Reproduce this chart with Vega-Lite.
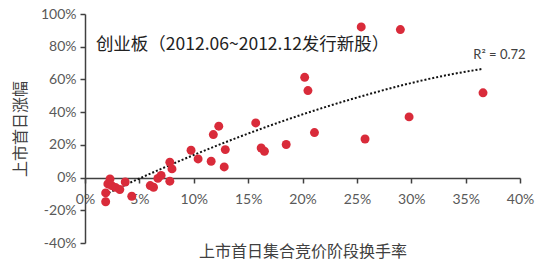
{
  "$schema": "https://vega.github.io/schema/vega-lite/v6.json",
  "width": 435,
  "height": 229,
  "autosize": "none",
  "padding": {"left": 85, "top": 14, "right": 30, "bottom": 34},
  "background": "white",
  "config": {
    "view": {"stroke": null},
    "axis": {
      "grid": false,
      "domainColor": "#404040",
      "domainWidth": 1.5,
      "tickColor": "#404040",
      "tickWidth": 1.5,
      "tickSize": 5,
      "labelFont": "Lato",
      "labelFontSize": 14,
      "labelColor": "#595959",
      "labelOverlap": false,
      "labelFlush": false,
      "labelBound": false,
      "titleFont": "Noto Sans CJK SC",
      "titleFontSize": 16,
      "titleFontWeight": "normal",
      "titleColor": "#404040"
    }
  },
  "datasets": {
    "pts": [
      {"turnover": 1.9, "gain": -14.8},
      {"turnover": 1.9, "gain": -9.4},
      {"turnover": 2.3, "gain": -0.8},
      {"turnover": 2.1, "gain": -3.9},
      {"turnover": 2.45, "gain": -4.9},
      {"turnover": 2.8, "gain": -6.0},
      {"turnover": 3.2, "gain": -7.3},
      {"turnover": 3.7, "gain": -2.7},
      {"turnover": 4.3, "gain": -11.4},
      {"turnover": 6.0, "gain": -4.9},
      {"turnover": 6.3, "gain": -5.9},
      {"turnover": 6.7, "gain": -0.5},
      {"turnover": 7.0, "gain": 1.3},
      {"turnover": 7.8, "gain": 9.4},
      {"turnover": 8.0, "gain": 5.3},
      {"turnover": 7.8, "gain": -2.2},
      {"turnover": 9.75, "gain": 16.7},
      {"turnover": 10.4, "gain": 11.4},
      {"turnover": 11.6, "gain": 10.0},
      {"turnover": 11.8, "gain": 26.3},
      {"turnover": 12.3, "gain": 31.4},
      {"turnover": 12.9, "gain": 17.1},
      {"turnover": 12.8, "gain": 6.5},
      {"turnover": 15.7, "gain": 33.4},
      {"turnover": 16.2, "gain": 18.1},
      {"turnover": 16.5, "gain": 16.1},
      {"turnover": 18.5, "gain": 20.2},
      {"turnover": 20.2, "gain": 61.3},
      {"turnover": 20.5, "gain": 53.2},
      {"turnover": 21.1, "gain": 27.5},
      {"turnover": 25.4, "gain": 92.1},
      {"turnover": 25.75, "gain": 23.6},
      {"turnover": 29.0, "gain": 90.5},
      {"turnover": 29.8, "gain": 37.1},
      {"turnover": 36.6, "gain": 51.8}
    ],
    "trend": [
      {"turnover": 1.84, "gain": -10.4},
      {"turnover": 4, "gain": -3.6},
      {"turnover": 7, "gain": 5.3},
      {"turnover": 10, "gain": 13.8},
      {"turnover": 14, "gain": 24.4},
      {"turnover": 18, "gain": 34.1},
      {"turnover": 22, "gain": 42.9},
      {"turnover": 26, "gain": 50.8},
      {"turnover": 30, "gain": 57.8},
      {"turnover": 33.5, "gain": 62.9},
      {"turnover": 36.6, "gain": 66.5}
    ],
    "notes": [
      {"turnover": 1.0, "gain": 81.3, "label": "创业板（2012.06~2012.12发行新股）", "kind": "title"},
      {"turnover": 35.7, "gain": 75.2, "label": "R² = 0.72", "kind": "r2"}
    ]
  },
  "encoding": {
    "x": {"field": "turnover", "type": "quantitative",
          "scale": {"domain": [0, 40], "nice": false},
          "axis": {"values": [0, 5, 10, 15, 20, 25, 30, 35, 40], "labelExpr": "datum.value + '%'",
                   "labelOverlap": false,
                   "offset": -65, "labelPadding": 9, "title": "上市首日集合竞价阶段换手率", "titlePadding": 37}},
    "y": {"field": "gain", "type": "quantitative",
          "scale": {"domain": [-40, 100], "nice": false},
          "axis": {"values": [-40, -20, 0, 20, 40, 60, 80, 100], "labelExpr": "datum.value + '%'",
                   "labelOverlap": false, "tickCount": 8,
                   "labelPadding": 4, "title": "上市首日涨幅", "titlePadding": 12}}
  },
  "layer": [
    {
      "data": {"name": "trend"},
      "mark": {"type": "line", "color": "#111111", "strokeWidth": 2, "strokeDash": [2, 2], "interpolate": "monotone"}
    },
    {
      "data": {"name": "pts"},
      "mark": {"type": "circle", "color": "#D92B3A", "opacity": 1, "size": 80}
    },
    {
      "data": {"name": "notes"},
      "transform": [{"filter": "datum.kind == 'title'"}],
      "mark": {"type": "text", "font": "Noto Sans CJK SC", "fontSize": 17.5, "color": "#222222", "align": "left", "baseline": "middle"},
      "encoding": {"text": {"field": "label"}}
    },
    {
      "data": {"name": "notes"},
      "transform": [{"filter": "datum.kind == 'r2'"}],
      "mark": {"type": "text", "font": "Lato", "fontSize": 13, "color": "#404040", "align": "left", "baseline": "middle"},
      "encoding": {"text": {"field": "label"}}
    }
  ]
}
